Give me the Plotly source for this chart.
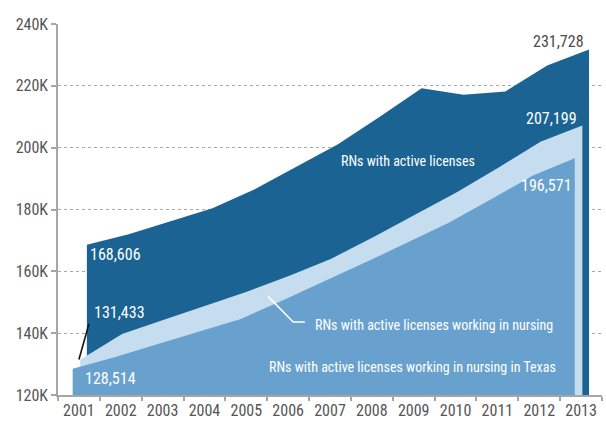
import plotly.graph_objects as go

# Registered nurses in Texas, 2001-2013
years = list(range(2001, 2014))
year_labels = [str(y) for y in years]

active_licenses = [168606, 172000, 176200, 180400, 186500, 193700, 201100,
                   210000, 219200, 217100, 218200, 226600, 231728]
working_in_nursing = [131433, 139700, 144300, 148900, 153500, 158600, 164100,
                      171000, 178300, 185600, 193600, 201900, 207199]
working_in_texas = [128514, 132200, 136300, 140400, 144500, 150500, 156600,
                    162900, 169300, 175800, 183300, 191000, 196571]

y_ticks = [120000, 140000, 160000, 180000, 200000, 220000, 240000]
y_tick_labels = ["120K", "140K", "160K", "180K", "200K", "220K", "240K"]

DARK = "#1b6392"
LIGHT = "#c6dcef"
MID = "#69a1ce"
FONT = "Roboto Condensed, DejaVu Sans Condensed, sans-serif"

# each band is nudged sideways so the three layers read as stacked sheets
series = [
    (active_licenses, DARK, 0.19),
    (working_in_nursing, LIGHT, 0.03),
    (working_in_texas, MID, -0.15),
]

fig = go.Figure()
for vals, color, shift in series:
    fig.add_trace(go.Scatter(
        x=[y + shift for y in years], y=vals,
        mode="lines", line=dict(width=0, color=color),
        fill="tozeroy", fillcolor=color, hoverinfo="skip",
    ))


def label(text, x, y, anchor, color="white", size=15):
    fig.add_annotation(x=x, y=y, xref="x", yref="y", text=text, showarrow=False,
                       xanchor=anchor, yanchor="middle",
                       font=dict(family=FONT, size=size, color=color))


label(f"{active_licenses[0]:,}", 2001.22, 165300, "left", size=16)
label(f"{working_in_nursing[0]:,}", 2001.31, 146800, "left", size=16)
label(f"{working_in_texas[0]:,}", 2001.10, 125400, "left", size=16)
label(f"{active_licenses[-1]:,}", 2013.12, 234300, "right", "#4a4a4a", size=16)
label(f"{working_in_nursing[-1]:,}", 2012.95, 209400, "right", size=16)
label(f"{working_in_texas[-1]:,}", 2012.83, 187700, "right", size=16)
label("RNs with active licenses", 2008.87, 195600, "center", size=14)
label("RNs with active licenses working in nursing", 2006.60, 142700, "left", size=14)
label("RNs with active licenses working in nursing in Texas", 2005.50, 128900, "left", size=14)

# leader lines
fig.add_shape(type="line", xref="x", yref="y", x0=2001.0, y0=131500,
              x1=2001.24, y1=143000, line=dict(color="#111111", width=1.6))
fig.add_shape(type="path", xref="x", yref="y",
              path="M 2005.52 151900 L 2006.12 143600 L 2006.40 143600",
              line=dict(color="white", width=1.6))

fig.update_layout(
    width=606, height=424,
    margin=dict(l=58, r=4, t=24, b=24),
    paper_bgcolor="white", plot_bgcolor="white",
    showlegend=False,
    font=dict(family=FONT, size=16, color="#555555"),
    xaxis=dict(
        range=[2000.5, 2013.5], tickvals=years, ticktext=year_labels,
        ticks="", showgrid=False, zeroline=False,
        showline=True, linecolor="#a6a6a6", linewidth=1.5,
        tickfont=dict(family=FONT, size=16, color="#555555"),
        minor=dict(tick0=2000.5, dtick=1, ticks="outside", ticklen=4,
                   tickcolor="#a6a6a6", tickwidth=1.5, showgrid=False),
    ),
    yaxis=dict(
        range=[120000, 240000], tickvals=y_ticks, ticktext=y_tick_labels,
        ticks="outside", ticklen=5, tickcolor="#a6a6a6", tickwidth=1.5,
        showgrid=True, gridcolor="#a8a8a8", griddash="3px,3px", gridwidth=1,
        zeroline=False, showline=True, linecolor="#a6a6a6", linewidth=1.5,
        tickfont=dict(family=FONT, size=16, color="#555555"),
    ),
)

fig.write_html("out.html")
